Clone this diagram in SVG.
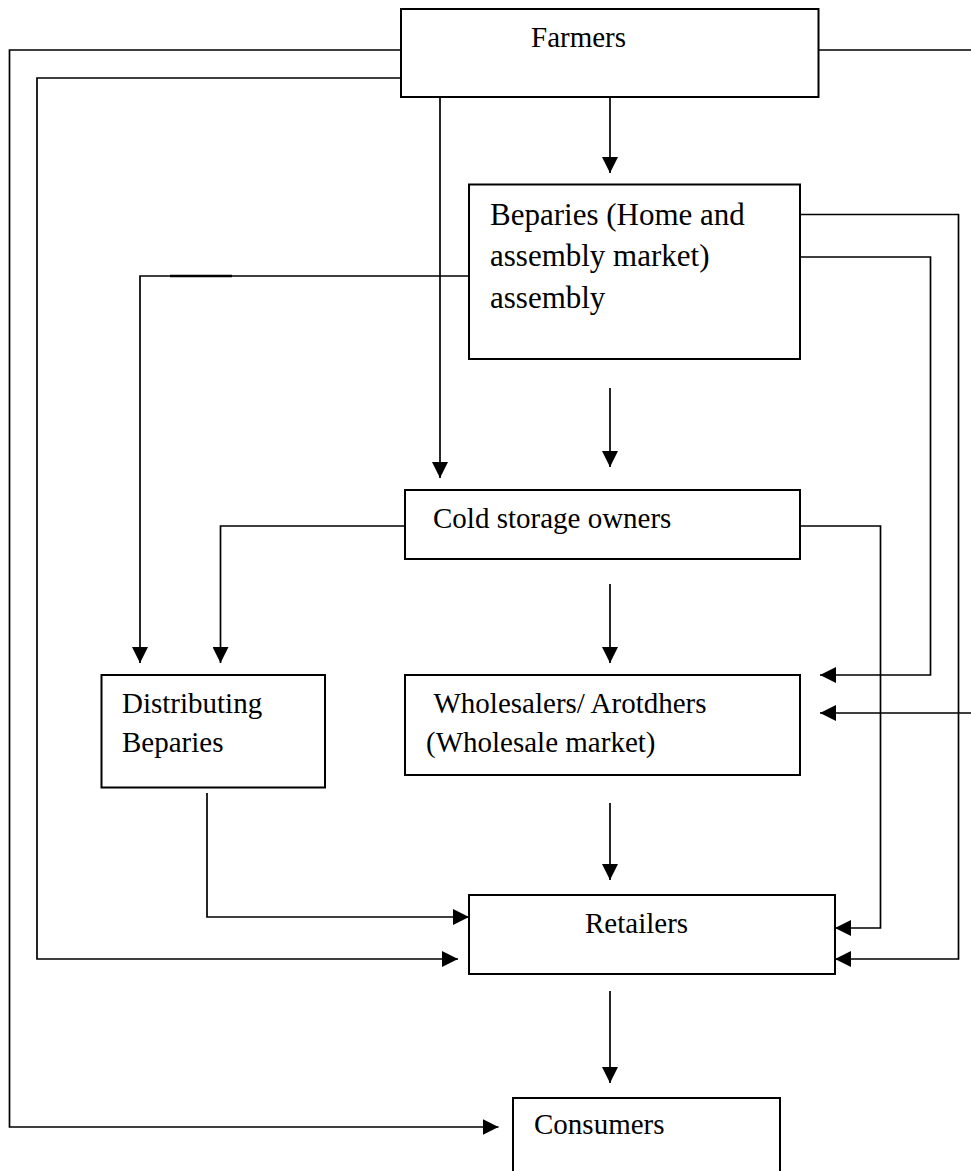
<svg xmlns="http://www.w3.org/2000/svg" width="971" height="1171" viewBox="0 0 971 1171">
<style>
.box{fill:#fff;stroke:#000;stroke-width:2}
.c{fill:none;stroke:#000;stroke-width:1.7}
.t{font-family:"Liberation Serif","Times New Roman",serif;font-size:29px;fill:#000}
.t2{font-size:31px}
</style>
<defs>
<marker id="ah" markerUnits="userSpaceOnUse" markerWidth="16" markerHeight="16" refX="15" refY="7.5" orient="auto" viewBox="0 0 15 15">
<path d="M0,0 L15,7.5 L0,15 z" fill="#000"/>
</marker>
</defs>
<rect width="971" height="1171" fill="#fff"/>
<g id="connectors">
<path class="c" d="M610,97 V173" marker-end="url(#ah)"/>
<path class="c" d="M401,50 H9.5 V1127 H498.5" marker-end="url(#ah)"/>
<path class="c" d="M401,78 H37 V959 H458" marker-end="url(#ah)"/>
<path class="c" d="M440,97 V478" marker-end="url(#ah)"/>
<path class="c" d="M818,50 H985 V713 H820" marker-end="url(#ah)"/>
<path class="c" d="M800,214.5 H958.5 V959 H835" marker-end="url(#ah)"/>
<path class="c" d="M800,257 H930.5 V675 H820" marker-end="url(#ah)"/>
<path class="c" d="M469,276 H140 V663" marker-end="url(#ah)"/>
<path class="c" d="M170,276 H232" style="stroke-width:2.6"/>
<path class="c" d="M610,388 V467" marker-end="url(#ah)"/>
<path class="c" d="M405,526 H220.5 V663" marker-end="url(#ah)"/>
<path class="c" d="M800,526 H880.5 V928 H835" marker-end="url(#ah)"/>
<path class="c" d="M610,584 V663" marker-end="url(#ah)"/>
<path class="c" d="M207,793 V917 H469" marker-end="url(#ah)"/>
<path class="c" d="M610,803 V880" marker-end="url(#ah)"/>
<path class="c" d="M610,991 V1083" marker-end="url(#ah)"/>
</g>
<g id="farmers">
<rect class="box" x="401" y="9" width="417.5" height="88"/>
<text class="t" x="531" y="47">Farmers</text>
</g>
<g id="beparies">
<rect class="box" x="469" y="184.5" width="331" height="174.5"/>
<text class="t t2" x="490" y="224.5">Beparies (Home and</text>
<text class="t t2" x="490" y="266">assembly market)</text>
<text class="t t2" x="490" y="307.5">assembly</text>
</g>
<g id="cold-storage">
<rect class="box" x="405" y="490" width="395" height="69"/>
<text class="t" x="433" y="528">Cold storage owners</text>
</g>
<g id="distributing">
<rect class="box" x="101.5" y="675" width="223.5" height="112.5"/>
<text class="t" x="122" y="713">Distributing</text>
<text class="t" x="122" y="752">Beparies</text>
</g>
<g id="wholesalers">
<rect class="box" x="405" y="675" width="395" height="100"/>
<text class="t" x="433.5" y="713">Wholesalers/ Arotdhers</text>
<text class="t" x="426" y="752">(Wholesale market)</text>
</g>
<g id="retailers">
<rect class="box" x="469" y="895" width="366" height="79"/>
<text class="t" x="585" y="933">Retailers</text>
</g>
<g id="consumers">
<rect class="box" x="513" y="1098" width="267" height="90"/>
<text class="t" x="534" y="1134">Consumers</text>
</g>
</svg>
